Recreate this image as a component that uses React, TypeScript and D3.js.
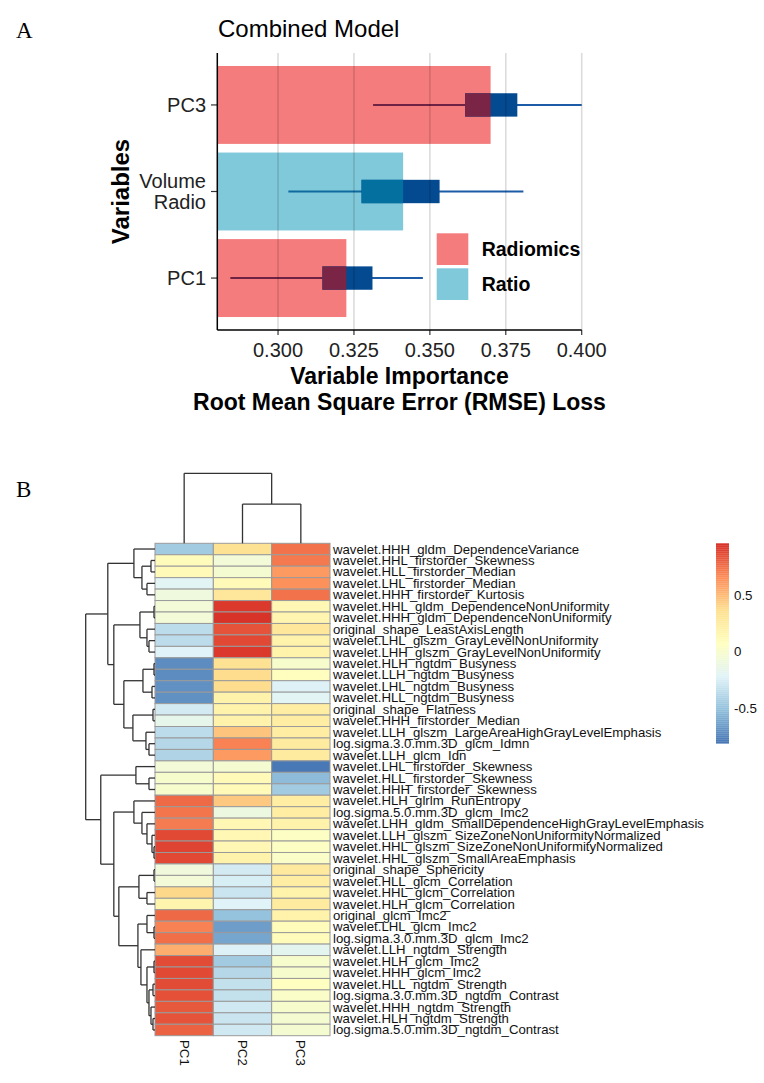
import * as d3 from 'd3';
import { useEffect } from 'react';

// ---------- panel A data ----------
const variables = ['PC3', 'Volume\nRadio', 'PC1'];
const groups = ['Radiomics', 'Ratio', 'Radiomics'];
const meanLoss = [0.370, 0.3412, 0.3225];
const whiskerLo = [0.3313, 0.3034, 0.2843];
const whiskerHi = [0.400, 0.3808, 0.3477];
const boxLo = [0.3616, 0.3275, 0.3146];
const boxHi = [0.3788, 0.3532, 0.3311];
const baseLoss = 0.28;
const xTicks = [0.3, 0.325, 0.35, 0.375, 0.4];
const legendGroups = ['Radiomics', 'Ratio'];

// ---------- panel B data ----------
const rowLabels = [
    'wavelet.HHH_gldm_DependenceVariance',
    'wavelet.HHL_firstorder_Skewness',
    'wavelet.HLL_firstorder_Median',
    'wavelet.LHL_firstorder_Median',
    'wavelet.HHH_firstorder_Kurtosis',
    'wavelet.HHL_gldm_DependenceNonUniformity',
    'wavelet.HHH_gldm_DependenceNonUniformity',
    'original_shape_LeastAxisLength',
    'wavelet.LHL_glszm_GrayLevelNonUniformity',
    'wavelet.LHH_glszm_GrayLevelNonUniformity',
    'wavelet.HLH_ngtdm_Busyness',
    'wavelet.LLH_ngtdm_Busyness',
    'wavelet.LHL_ngtdm_Busyness',
    'wavelet.HLL_ngtdm_Busyness',
    'original_shape_Flatness',
    'wavelet.HHH_firstorder_Median',
    'wavelet.LLH_glszm_LargeAreaHighGrayLevelEmphasis',
    'log.sigma.3.0.mm.3D_glcm_Idmn',
    'wavelet.LLH_glcm_Idn',
    'wavelet.LHL_firstorder_Skewness',
    'wavelet.HLL_firstorder_Skewness',
    'wavelet.HHH_firstorder_Skewness',
    'wavelet.HLH_glrlm_RunEntropy',
    'log.sigma.5.0.mm.3D_glcm_Imc2',
    'wavelet.LHH_gldm_SmallDependenceHighGrayLevelEmphasis',
    'wavelet.LLH_glszm_SizeZoneNonUniformityNormalized',
    'wavelet.HHL_glszm_SizeZoneNonUniformityNormalized',
    'wavelet.HHL_glszm_SmallAreaEmphasis',
    'original_shape_Sphericity',
    'wavelet.HLL_glcm_Correlation',
    'wavelet.HHL_glcm_Correlation',
    'wavelet.HLH_glcm_Correlation',
    'original_glcm_Imc2',
    'wavelet.LHL_glcm_Imc2',
    'log.sigma.3.0.mm.3D_glcm_Imc2',
    'wavelet.LLH_ngtdm_Strength',
    'wavelet.HLH_glcm_Imc2',
    'wavelet.HHH_glcm_Imc2',
    'wavelet.HLL_ngtdm_Strength',
    'log.sigma.3.0.mm.3D_ngtdm_Contrast',
    'wavelet.HHH_ngtdm_Strength',
    'wavelet.HLH_ngtdm_Strength',
    'log.sigma.5.0.mm.3D_ngtdm_Contrast',
];
const colLabels = ['PC1', 'PC2', 'PC3'];
const pc1 = [
    -0.45, 0.1, 0.12, -0.2, -0.08, -0.05, -0.05, -0.35, -0.35, -0.22,
    -0.72, -0.72, -0.7, -0.7, -0.27, -0.15, -0.35, -0.38, -0.4, -0.05,
    0.0, 0.0, 0.78, 0.74, 0.72, 0.88, 0.9, 0.88, -0.07, -0.05,
    0.4, 0.18, 0.78, 0.7, 0.76, 0.55, 0.87, 0.88, 0.87, 0.86,
    0.83, 0.85, 0.8,
];
const pc2 = [
    0.35, -0.05, -0.02, 0.12, 0.3, 0.93, 0.95, 0.85, 0.88, 0.93,
    0.35, 0.38, 0.38, 0.2, 0.2, 0.2, 0.47, 0.7, 0.62, -0.02,
    0.12, 0.12, 0.45, -0.1, 0.15, 0.15, 0.15, 0.2, -0.27, -0.25,
    -0.3, -0.22, -0.5, -0.65, -0.62, -0.23, -0.45, -0.38, -0.33, -0.33,
    -0.28, -0.3, -0.28,
];
const pc3 = [
    0.75, 0.73, 0.62, 0.65, 0.75, 0.15, 0.17, 0.3, 0.2, 0.2,
    0.0, 0.08, -0.23, -0.2, 0.25, 0.25, 0.25, 0.27, 0.27, -0.8,
    -0.53, -0.45, 0.25, 0.25, 0.2, 0.05, 0.05, 0.03, 0.28, 0.25,
    0.2, 0.27, 0.2, 0.1, 0.1, -0.18, 0.0, 0.0, 0.07, 0.03,
    0.0, -0.02, -0.02,
];
const valueMin = -0.81;
const valueMax = 0.96;
const legendTicks = [-0.5, 0, 0.5];
const rdylbu = ['#4575B4', '#91BFDB', '#E0F3F8', '#FFFFBF', '#FEE090', '#FC8D59', '#D73027'];

// hierarchical clustering: [height, left, right], leaves are row indices
type Tree = number | [number, Tree, Tree];
const rowTree: Tree = [69,
    [47,
        [21, 0, [13, [4, 1, 2], [8, 3, 4]]],
        [41,
            [15, [1, 5, 6], [8, 7, [6, 8, 9]]],
            [31, [12, [1, 10, 11], [3, 12, 13]], [22, [2, 14, 15], [9, 16, [6, 17, 18]]]]]],
    [54,
        [19, 19, [6, 20, 21]],
        [41,
            [21, 22, [13, 23, [8, 24, [3, 25, [1, 26, 27]]]]],
            [36,
                [16, [1, 28, 29], [8, 30, 31]],
                [17, [8, 32, [1, 33, 34]], [14, 35, [8, [1, 36, 37], [6, [2, 38, 39], [4, 40, [2, 41, 42]]]]]]]]]];
const colTree: Tree = [1, 0, [0.56, 1, 2]];

const sans = '"Liberation Sans", Arial, sans-serif';
const serif = '"Liberation Serif", "Times New Roman", serif';

function dendroSegments(tree: Tree, leafPos: (i: number) => number, hPos: (h: number) => number, vertical: boolean) {
    const segs: number[][] = [];
    function walk(n: Tree): { p: number; h: number } {
        if (typeof n === 'number') return { p: leafPos(n), h: 0 };
        const [h, a, b] = n;
        const A = walk(a);
        const B = walk(b);
        const hp = hPos(h);
        if (vertical) {
            segs.push([A.p, hp, B.p, hp], [A.p, hp, A.p, hPos(A.h)], [B.p, hp, B.p, hPos(B.h)]);
        } else {
            segs.push([hp, A.p, hp, B.p], [hp, A.p, hPos(A.h), A.p], [hp, B.p, hPos(B.h), B.p]);
        }
        return { p: (A.p + B.p) / 2, h };
    }
    walk(tree);
    return segs;
}

function PanelA() {
    const x = d3.scaleLinear().domain([baseLoss, 0.4]).range([217.3, 581.7]);
    const y = d3.scalePoint().domain(variables).range([53, 330]).padding(0.6);
    const step = y.step();
    const barH = step * 0.9;
    const boxH = step * 0.27;
    const barFill: Record<string, string> = { Radiomics: '#f47c7c', Ratio: '#80c9da' };
    const overlapBox: Record<string, string> = { Radiomics: '#7a2446', Ratio: '#03709f' };
    const overlapLine: Record<string, string> = { Radiomics: '#6e2345', Ratio: '#0f6a9d' };
    const [x0, x1] = x.range();

    return (
        <g fontFamily={sans}>
            <text x={16} y={38} fontFamily={serif} fontSize={23}>A</text>
            <text x={218} y={37} fontSize={24}>Combined Model</text>
            {variables.map((v, i) => {
                const cy = y(v) as number;
                const g = groups[i];
                const end = x(meanLoss[i]);
                return (
                    <g key={v}>
                        <rect x={x0} y={cy - barH / 2} width={end - x0} height={barH} fill={barFill[g]} />
                        <line x1={x(whiskerLo[i])} x2={Math.min(end, x(whiskerHi[i]))} y1={cy} y2={cy} stroke={overlapLine[g]} strokeWidth={2} />
                        <line x1={Math.max(end, x(whiskerLo[i]))} x2={x(whiskerHi[i])} y1={cy} y2={cy} stroke="#1c5ba6" strokeWidth={2} />
                        <rect x={x(boxLo[i])} y={cy - boxH / 2} width={x(boxHi[i]) - x(boxLo[i])} height={boxH} fill="#034a91" />
                        <rect x={x(boxLo[i])} y={cy - boxH / 2} width={Math.max(0, Math.min(end, x(boxHi[i])) - x(boxLo[i]))} height={boxH} fill={overlapBox[g]} />
                    </g>
                );
            })}
            {xTicks.map((t) => (
                <g key={t}>
                    <line x1={x(t)} x2={x(t)} y1={53} y2={330} stroke="#000" strokeOpacity={0.14} strokeWidth={1.6} />
                    <line x1={x(t)} x2={x(t)} y1={330} y2={335} stroke="#333" strokeWidth={1.2} />
                    <text x={x(t)} y={357} fontSize={20} textAnchor="middle" fill="#222">{d3.format('.3f')(t)}</text>
                </g>
            ))}
            {variables.map((v) => {
                const cy = y(v) as number;
                const lines = v.split('\n');
                return (
                    <g key={'l' + v}>
                        <line x1={211} x2={x0} y1={cy} y2={cy} stroke="#333" strokeWidth={1.2} />
                        {lines.map((ln, j) => (
                            <text key={ln} x={206} y={cy + (j - (lines.length - 1) / 2) * 21} fontSize={20} textAnchor="end" dominantBaseline="central" fill="#222">{ln}</text>
                        ))}
                    </g>
                );
            })}
            <line x1={x0} x2={x0} y1={53} y2={330} stroke="#000" strokeWidth={1.5} />
            <line x1={x0} x2={x1} y1={330} y2={330} stroke="#000" strokeWidth={1.5} />
            {legendGroups.map((g, i) => (
                <g key={g}>
                    <rect x={436.7} y={233.3 + i * 35} width={31.6} height={31.7} fill={barFill[g]} />
                    <text x={481.7} y={249.2 + i * 35} fontSize={19.5} fontWeight="bold" dominantBaseline="central">{g}</text>
                </g>
            ))}
            <text transform="translate(120,191.5) rotate(-90)" fontSize={24} fontWeight="bold" textAnchor="middle" dominantBaseline="central">Variables</text>
            <text x={399.5} y={384} fontSize={23} fontWeight="bold" textAnchor="middle">Variable Importance</text>
            <text x={399.5} y={410} fontSize={23} fontWeight="bold" textAnchor="middle">Root Mean Square Error (RMSE) Loss</text>
        </g>
    );
}

function PanelB() {
    const left = 155, right = 330, top = 543.3, bottom = 1035.7;
    const xb = d3.scaleBand().domain(colLabels).range([left, right]);
    const yb = d3.scaleBand().domain(rowLabels).range([top, bottom]);
    const color = d3.scaleLinear<string>()
        .domain(rdylbu.map((_, i) => valueMin + (i * (valueMax - valueMin)) / 6))
        .range(rdylbu)
        .interpolate(d3.interpolateRgb);
    const cols = [pc1, pc2, pc3];

    const rowH = d3.scaleLinear().domain([0, 69]).range([left, 85.7]);
    const rowSegs = dendroSegments(rowTree, (i) => (yb(rowLabels[i]) as number) + yb.bandwidth() / 2, rowH, false);
    const colH = d3.scaleLinear().domain([0, 1]).range([top, 473.3]);
    const colSegs = dendroSegments(colTree, (i) => (xb(colLabels[i]) as number) + xb.bandwidth() / 2, colH, true);

    const ly = d3.scaleLinear().domain([valueMin, valueMax]).range([743.3, 543.3]);
    const legendSteps = d3.range(100).map((i) => valueMin + ((i + 0.5) * (valueMax - valueMin)) / 100);
    const stepH = 200 / 100;

    return (
        <g fontFamily={sans}>
            <text x={16} y={497} fontFamily={serif} fontSize={23}>B</text>
            {cols.map((vals, c) =>
                vals.map((v, r) => (
                    <rect key={c + '-' + r} x={xb(colLabels[c])} y={yb(rowLabels[r])} width={xb.bandwidth()} height={yb.bandwidth()}
                        fill={color(v)} stroke="#9a9a9a" strokeWidth={1} />
                ))
            )}
            {rowSegs.concat(colSegs).map((s, i) => (
                <line key={i} x1={s[0]} y1={s[1]} x2={s[2]} y2={s[3]} stroke="#333" strokeWidth={1.3} />
            ))}
            {rowLabels.map((lab) => (
                <text key={lab} x={333} y={(yb(lab) as number) + yb.bandwidth() / 2} fontSize={13.2} dominantBaseline="central" fill="#111">{lab}</text>
            ))}
            {colLabels.map((lab) => (
                <text key={lab} transform={`translate(${(xb(lab) as number) + xb.bandwidth() / 2},1040) rotate(90)`} fontSize={13.3} dominantBaseline="central" fill="#111">{lab}</text>
            ))}
            {legendSteps.map((v, i) => (
                <rect key={i} x={716} y={743.3 - (i + 1) * stepH} width={13} height={stepH + 0.3} fill={color(v)} />
            ))}
            {legendTicks.map((t) => (
                <text key={t} x={734} y={ly(t)} fontSize={13.3} dominantBaseline="central" fill="#111">{t}</text>
            ))}
        </g>
    );
}

export default function App() {
    useEffect(() => {
        document.body.style.margin = '0';
    }, []);
    return (
        <svg width={764} height={1083} style={{ display: 'block', background: '#fff' }}>
            <rect width={764} height={1083} fill="#fff" />
            <PanelA />
            <PanelB />
        </svg>
    );
}
